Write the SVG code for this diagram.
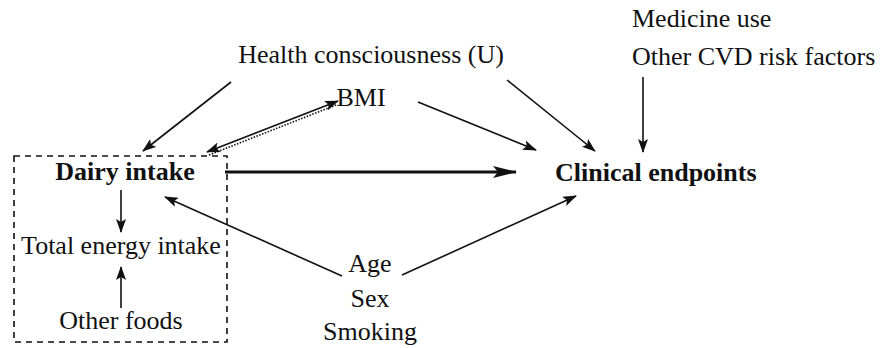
<svg xmlns="http://www.w3.org/2000/svg" width="881" height="348" viewBox="0 0 881 348">
<style>
text{font-family:"Liberation Serif","Times New Roman",serif;font-size:26px;fill:#111}
.b{font-weight:bold}
.e{stroke:#111;stroke-width:1.6;fill:none}
.t{stroke-width:3}
</style>
<defs>
<marker id="ah" markerWidth="14" markerHeight="10" refX="13" refY="5" orient="auto" markerUnits="userSpaceOnUse">
<path d="M0,0 L14,5 L0,10 L3,5 z" fill="#111"/>
</marker>
<marker id="ahs" markerWidth="14" markerHeight="10" refX="13" refY="5" orient="auto-start-reverse" markerUnits="userSpaceOnUse">
<path d="M0,0 L14,5 L0,10 L3,5 z" fill="#111"/>
</marker>
<marker id="ahb" markerWidth="24" markerHeight="12" refX="23" refY="6" orient="auto" markerUnits="userSpaceOnUse">
<path d="M0,0 L24,6 L0,12 L5,6 z" fill="#111"/>
</marker>
</defs>
<rect x="14" y="156" width="213" height="186" fill="none" stroke="#111" stroke-width="1.6" stroke-dasharray="6,5"/>
<g id="connectors">
<line class="e" x1="231" y1="82" x2="143" y2="151" marker-end="url(#ah)"/>
<line class="e" x1="207" y1="152" x2="338" y2="101" marker-end="url(#ahs)" marker-start="url(#ahs)"/>
<line class="e" x1="209" y1="155" x2="336" y2="105" stroke-dasharray="1.5,1.5"/>
<line class="e" x1="418" y1="102" x2="536" y2="150" marker-end="url(#ah)"/>
<line class="e" x1="507" y1="80" x2="595" y2="151" marker-end="url(#ah)"/>
<line class="e" x1="643" y1="77" x2="643" y2="152" marker-end="url(#ah)"/>
<line class="e t" x1="225" y1="172" x2="516" y2="172" marker-end="url(#ahb)"/>
<line class="e" x1="121" y1="190" x2="121" y2="232" marker-end="url(#ah)"/>
<line class="e" x1="121" y1="308" x2="121" y2="267" marker-end="url(#ah)"/>
<line class="e" x1="342" y1="276" x2="165" y2="197" marker-end="url(#ah)"/>
<line class="e" x1="402" y1="275" x2="576" y2="196" marker-end="url(#ah)"/>
</g>
<g id="health"><text x="371" y="63" text-anchor="middle">Health consciousness (U)</text></g>
<g id="medicine"><text x="632" y="27">Medicine use</text><text x="632" y="65">Other CVD risk factors</text></g>
<g id="bmi"><text x="361" y="106" text-anchor="middle">BMI</text></g>
<g id="dairy"><text class="b" x="125" y="180" text-anchor="middle">Dairy intake</text></g>
<g id="clinical"><text class="b" x="555" y="181">Clinical endpoints</text></g>
<g id="energy"><text x="121" y="254" text-anchor="middle">Total energy intake</text></g>
<g id="other"><text x="121" y="329" text-anchor="middle">Other foods</text></g>
<g id="confounders"><text x="370" y="272" text-anchor="middle">Age</text><text x="370" y="307" text-anchor="middle">Sex</text><text x="370" y="340" text-anchor="middle">Smoking</text></g>
</svg>
